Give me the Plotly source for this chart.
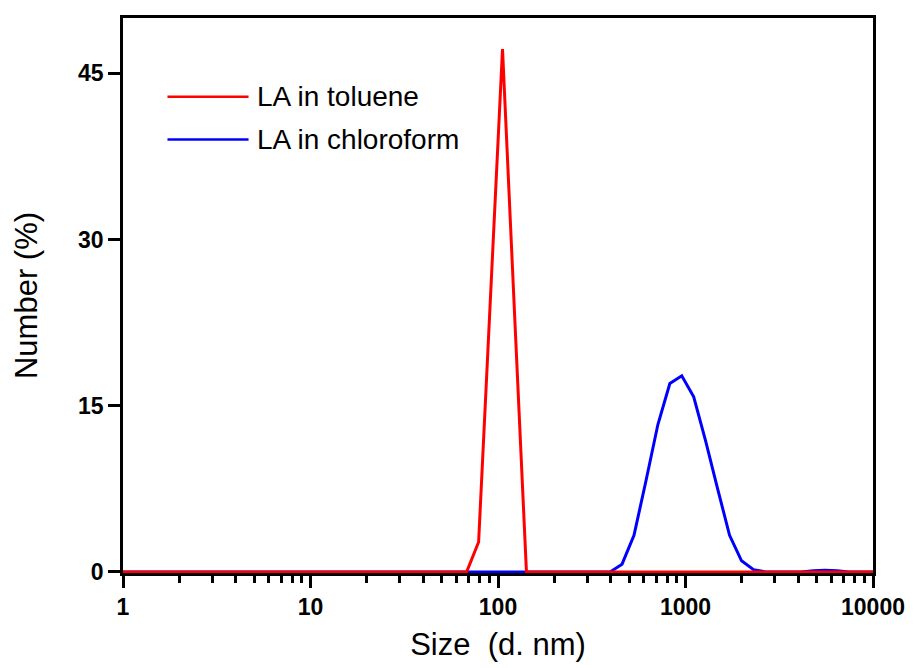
import plotly.graph_objects as go

# DLS size bins (d. nm)
sizes = [0.4, 0.4632, 0.5365, 0.6213, 0.7195, 0.8332, 0.9649, 1.117, 1.294, 1.499,
         1.736, 2.01, 2.328, 2.696, 3.122, 3.615, 4.187, 4.849, 5.615, 6.503,
         7.531, 8.721, 10.1, 11.7, 13.54, 15.69, 18.17, 21.04, 24.36, 28.21,
         32.67, 37.84, 43.82, 50.75, 58.77, 68.06, 78.82, 91.28, 105.7, 122.4,
         141.8, 164.2, 190.1, 220.2, 255.0, 295.3, 342.0, 396.1, 458.7, 531.2,
         615.1, 712.4, 825.0, 955.4, 1106, 1281, 1484, 1718, 1990, 2305,
         2669, 3091, 3580, 4145, 4801, 5560, 6439, 7456, 8635, 10000]

toluene = [0, 0, 0, 0, 0, 0, 0, 0, 0, 0,
           0, 0, 0, 0, 0, 0, 0, 0, 0, 0,
           0, 0, 0, 0, 0, 0, 0, 0, 0, 0,
           0, 0, 0, 0, 0, 0, 2.7, 25.0, 47.2, 23.5,
           0, 0, 0, 0, 0, 0, 0, 0, 0, 0,
           0, 0, 0, 0, 0, 0, 0, 0, 0, 0,
           0, 0, 0, 0, 0, 0, 0, 0, 0, 0]

chloroform = [0, 0, 0, 0, 0, 0, 0, 0, 0, 0,
              0, 0, 0, 0, 0, 0, 0, 0, 0, 0,
              0, 0, 0, 0, 0, 0, 0, 0, 0, 0,
              0, 0, 0, 0, 0, 0, 0, 0, 0, 0,
              0, 0, 0, 0, 0, 0, 0, 0, 0.7, 3.3,
              8.2, 13.3, 17.0, 17.7, 15.8, 11.8, 7.5, 3.3, 1.0, 0.2,
              0, 0, 0, 0, 0.1, 0.15, 0.1, 0, 0, 0]

x_ticks = [1, 10, 100, 1000, 10000]
x_ticklabels = ["1", "10", "100", "1000", "10000"]
x_minor = [m * d for d in [1, 10, 100, 1000] for m in range(2, 10)]
y_ticks = [0, 15, 30, 45]
legend_names = ["LA in toluene", "LA in chloroform"]
legend_colors = ["#ff0000", "#0000ff"]

FONT = "Liberation Sans, Arial, sans-serif"

fig = go.Figure()
fig.add_trace(go.Scatter(x=sizes, y=chloroform, mode="lines",
                         line=dict(color=legend_colors[1], width=3),
                         name=legend_names[1], showlegend=False))
fig.add_trace(go.Scatter(x=sizes, y=toluene, mode="lines",
                         line=dict(color=legend_colors[0], width=3),
                         name=legend_names[0], showlegend=False))

# custom legend (long line samples like the original)
legend_y = [0.858, 0.781]
for name, color, yy in zip(legend_names, legend_colors, legend_y):
    fig.add_shape(type="line", xref="paper", yref="paper",
                  x0=0.0593, x1=0.1674, y0=yy, y1=yy,
                  line=dict(color=color, width=2.5))
    fig.add_annotation(xref="paper", yref="paper", x=0.1765, y=yy,
                       text=name, showarrow=False, xanchor="left", yanchor="middle",
                       font=dict(family=FONT, size=28, color="black"))

fig.update_layout(
    width=917, height=668,
    margin=dict(l=123, r=36, t=18, b=92),
    paper_bgcolor="white", plot_bgcolor="white",
    showlegend=False,
    font=dict(family=FONT, color="black"),
)

fig.update_xaxes(
    type="log", range=[0, 4],
    tickmode="array", tickvals=x_ticks, ticktext=x_ticklabels,
    ticks="outside", ticklen=12, tickwidth=2.5, tickcolor="black",
    minor=dict(tickmode="array", tickvals=x_minor, ticks="outside",
               ticklen=7, tickwidth=2.5, tickcolor="black", showgrid=False),
    showline=True, linecolor="black", linewidth=2.5, mirror=True,
    showgrid=False, zeroline=False, layer="below traces",
    tickfont=dict(family=FONT, size=23, color="black", weight="bold"),
    title=dict(text="Size  (d. nm)", font=dict(family=FONT, size=31, color="black"),
               standoff=14),
)

fig.update_yaxes(
    range=[-0.1, 50],
    tickmode="array", tickvals=y_ticks,
    ticks="outside", ticklen=12, tickwidth=2.5, tickcolor="black",
    showline=True, linecolor="black", linewidth=2.5, mirror=True,
    showgrid=False, zeroline=False, layer="below traces",
    tickfont=dict(family=FONT, size=23, color="black", weight="bold"),
    title=dict(text="Number (%)", font=dict(family=FONT, size=31, color="black"),
               standoff=32),
)

fig.write_html("out.html")
